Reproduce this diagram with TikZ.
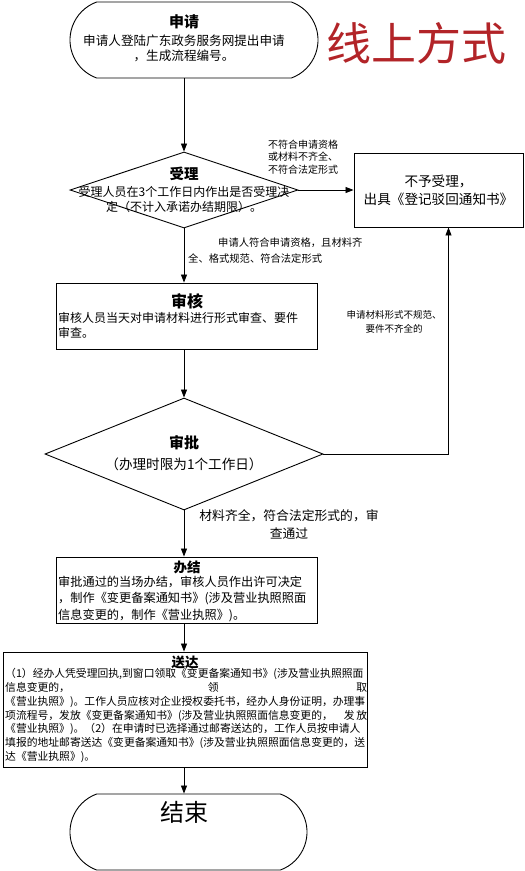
\documentclass[tikz,border=0pt]{standalone}
\usepackage{fontspec}
\setmainfont{Noto Sans CJK SC}
\usetikzlibrary{arrows.meta,positioning,calc,shapes.geometric,shapes.misc}
\definecolor{xred}{RGB}{178,36,40}

\begin{document}
\begin{tikzpicture}[x=1pt,y=-1pt,
	term/.style={rounded rectangle,rounded rectangle arc length=140,draw,line width=0.9pt,inner sep=0pt},
	dec/.style={diamond,draw,line width=0.9pt,inner sep=0pt},
	box/.style={rectangle,draw,line width=0.9pt,inner sep=0pt},
	ttl/.style={font=\bfseries\fontsize{14}{18}\selectfont,inner sep=0pt},
	lbl/.style={inner sep=0pt,align=center}
]
	\useasboundingbox (0,0) rectangle (525,871);

	% shapes
	\node [term,minimum width=248pt,minimum height=76pt] (sq) at (194,40) {};
	\node [dec,minimum width=228pt,minimum height=76pt] (sl) at (184,190) {};
	\node [box,minimum width=169pt,minimum height=74pt,align=center,
		font=\fontsize{13.6}{18}\selectfont] (by) at (438.5,190) {不予受理，\\出具《登记驳回通知书》};
	\node [box,minimum width=261pt,minimum height=66pt] (sh) at (186.5,316) {};
	\node [dec,minimum width=278pt,minimum height=112pt] (sp) at (184,454) {};
	\node [box,minimum width=261pt,minimum height=66pt] (bj) at (186.5,590) {};
	\node [box,minimum width=364pt,minimum height=115pt] (sd) at (185,709.5) {};
	\node [term,minimum width=237pt,minimum height=76pt] (js) at (188.5,832) {};

	% texts in the shapes
	\node [ttl,font=\bfseries\fontsize{15}{18}\selectfont] (sqT) at (184,22) {申请};
	\node [lbl,font=\fontsize{12.6}{15}\selectfont] (sqB) at (184,48) {申请人登陆广东政务服务网提出申请\\，生成流程编号。};
	\node [ttl,font=\bfseries\fontsize{14.5}{18}\selectfont] (slT) at (184,174) {受理};
	\node [lbl,font=\fontsize{12}{15}\selectfont] (slB) at (184,200) {受理人员在3个工作日内作出是否受理决\\定（不计入承诺办结期限）。};
	\node [ttl,font=\bfseries\fontsize{16}{18}\selectfont] (shT) at (187,301) {审核};
	\node [lbl,align=left,anchor=west,font=\fontsize{12}{15}\selectfont] (shB) at (58,325.5) {审核人员当天对申请材料进行形式审查、要件\\审查。};
	\node [ttl,font=\bfseries\fontsize{15}{18}\selectfont] (spT) at (184,443) {审批};
	\node [lbl,font=\fontsize{13.6}{15}\selectfont] (spB) at (184,464) {（办理时限为1个工作日）};
	\node [ttl,font=\bfseries\fontsize{13.5}{18}\selectfont] (bjT) at (187,567) {办结};
	\node [lbl,align=left,anchor=west,font=\fontsize{12.2}{16.5}\selectfont] (bjB) at (58,599) {审批通过的当场办结，审核人员作出许可决定\\，制作《变更备案通知书》(涉及营业执照照面\\信息变更的，制作《营业执照》)。};
	\node [ttl,font=\bfseries\fontsize{13.5}{18}\selectfont] (sdT) at (185,662) {送达};
	\node [lbl,align=left,anchor=west,text width=362pt,font=\fontsize{10.8}{13.8}\selectfont] (sdB) at (5,715.5) {（1）经办人凭受理回执,到窗口领取《变更备案通知书》(涉及营业执照照面\\
		信息变更的，\hfill 领\hfill 取\\
		《营业执照》)。工作人员应核对企业授权委托书，经办人身份证明，办理事\\
		项流程号，发放《变更备案通知书》(涉及营业执照照面信息变更的，\hfill 发\,放\\
		《营业执照》)。（2）在申请时已选择通过邮寄送达的，工作人员按申请人\\
		填报的地址邮寄送达《变更备案通知书》(涉及营业执照照面信息变更的，送\\
		达《营业执照》)。};
	\node [inner sep=0pt,font=\fontsize{24}{26}\selectfont] (jsT) at (184,812) {结束};

	% labels on the connectors
	\node [lbl,font=\fontsize{10}{12.5}\selectfont] (lbNo) at (303,157) {不符合申请资格\\或材料不齐全、\\不符合法定形式};
	\node [lbl,align=left,anchor=west,font=\fontsize{10.3}{16}\selectfont] (lbYes) at (188,251) {\hspace*{30pt}申请人符合申请资格，且材料齐\\全、格式规范、符合法定形式};
	\node [lbl,font=\fontsize{9.5}{14}\selectfont] (lbBack) at (394,322) {申请材料形式不规范、\\要件不齐全的};
	\node [lbl,font=\fontsize{12.8}{18}\selectfont] (lbPass) at (289,524) {材料齐全，符合法定形式的，审\\查通过};

	\node [inner sep=0pt,text=xred,font=\fontsize{45}{48}\selectfont] (way) at (416.5,43) {线上方式};

	% connectors
	\begin{scope}[>={Triangle[length=8pt,width=6pt]},line width=0.8pt]
		\draw [->] (sq.south -| sl) -- (sl.north);
		\draw [->] (sl.south) -- (sh.north -| sl);
		\draw [->] (sl.east) -- (by.west);
		\draw [->] (sh.south -| sl) -- (sp.north);
		\draw [->] (sp.east) -| ($(by.south)+(10,0)$);
		\draw [->] (sp.south) -- (bj.north -| sl);
		\draw [->] (bj.south -| sl) -- (sd.north -| sl);
		\draw [->] (sd.south -| sl) -- (js.north -| sl);
	\end{scope}
\end{tikzpicture}
\end{document}
